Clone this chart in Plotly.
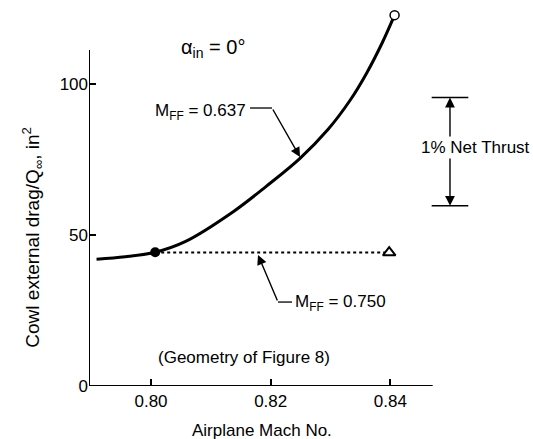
import plotly.graph_objects as go

# ---- data ----
mach_637 = [0.7909, 0.7957, 0.8007, 0.8057, 0.8138, 0.8193, 0.8249,
            0.8296, 0.8333, 0.8360, 0.8386, 0.8407]
drag_637 = [42.0, 42.8, 44.3, 47.8, 57.8, 66.2, 75.4,
            85.0, 94.7, 103.5, 113.5, 122.8]
mach_750 = [0.8007, 0.8398]
drag_750 = [44.2, 44.2]
x_ticks = [0.80, 0.82, 0.84]
x_ticktext = ["0.80", "0.82", "0.84"]
y_ticks = [0, 50, 100]
y_ticktext = ["0", "50", "100"]

X0, X1 = 0.78964, 0.86383
Y0, Y1 = 0.0, 125.83
AX_XEND = 0.84707
AX_YEND = 111.3

FONT = "Liberation Sans, Arial, Helvetica, sans-serif"
fs = 17

fig = go.Figure()

# M_FF = 0.637 curve
fig.add_trace(go.Scatter(x=mach_637, y=drag_637, mode="lines",
                         line=dict(color="black", width=3, shape="spline", smoothing=1.0),
                         hoverinfo="skip", showlegend=False))
# M_FF = 0.750 dotted line
fig.add_trace(go.Scatter(x=mach_750, y=drag_750, mode="lines",
                         line=dict(color="black", width=2, dash="dot"),
                         hoverinfo="skip", showlegend=False))
# markers
fig.add_trace(go.Scatter(x=[mach_637[2]], y=[drag_637[2]], mode="markers",
                         marker=dict(symbol="circle", size=10, color="black"),
                         showlegend=False, hoverinfo="skip"))
fig.add_trace(go.Scatter(x=[mach_637[-1]], y=[drag_637[-1]], mode="markers",
                         marker=dict(symbol="circle", size=9, color="white",
                                     line=dict(color="black", width=1.5)),
                         showlegend=False, hoverinfo="skip", cliponaxis=False))
fig.add_trace(go.Scatter(x=[mach_750[-1]], y=[drag_750[-1]], mode="markers",
                         marker=dict(symbol="triangle-up", size=11, color="white",
                                     line=dict(color="black", width=2)),
                         showlegend=False, hoverinfo="skip"))

line_k = dict(color="black", width=2)
shapes = [
    # axis lines
    dict(type="line", xref="x", yref="y", x0=X0, x1=X0, y0=0, y1=AX_YEND, line=line_k),
    dict(type="line", xref="x", yref="y", x0=X0, x1=AX_XEND, y0=0, y1=0, line=line_k),
    # leaders
    dict(type="line", xref="x", yref="y", x0=0.81654, x1=0.82022, y0=92.05, y1=92.05,
         line=dict(color="black", width=1.3)),
    dict(type="line", xref="x", yref="y", x0=0.82122, x1=0.82356, y0=27.8, y1=27.8,
         line=dict(color="black", width=1.3)),
    # bracket
    dict(type="line", xref="x", yref="y", x0=0.84690, x1=0.85302, y0=95.5, y1=95.5,
         line=dict(color="black", width=1.5)),
    dict(type="line", xref="x", yref="y", x0=0.84690, x1=0.85302, y0=59.7, y1=59.7,
         line=dict(color="black", width=1.5)),
]

arrow = dict(showarrow=True, arrowhead=2, arrowsize=1.4, arrowwidth=1.4,
             arrowcolor="black", axref="x", ayref="y", xref="x", yref="y", text="")
annotations = [
    dict(arrow, x=0.82490, y=75.8, ax=0.82022, ay=92.05),
    dict(arrow, x=0.81788, y=43.4, ax=0.82122, ay=27.8),
    dict(arrow, x=0.84996, y=95.5, ax=0.84996, ay=78.9),
    dict(arrow, x=0.84996, y=59.7, ax=0.84996, ay=78.9),
    dict(x=0.85414, y=78.9, xref="x", yref="y", text="1% Net Thrust", showarrow=False,
         bgcolor="white", font=dict(size=fs), borderpad=1),
    dict(x=0.81036, y=111.9, xref="x", yref="y", text="α<sub>in</sub> = 0°",
         showarrow=False, font=dict(size=20)),
    dict(x=0.81621, y=90.7, xref="x", yref="y", text="M<sub>FF</sub> = 0.637",
         showarrow=False, xanchor="right", font=dict(size=fs)),
    dict(x=0.82373, y=27.5, xref="x", yref="y", text="M<sub>FF</sub> = 0.750",
         showarrow=False, xanchor="left", font=dict(size=fs)),
    dict(x=0.81554, y=9.6, xref="x", yref="y", text="(Geometry of Figure 8)",
         showarrow=False, font=dict(size=fs)),
    dict(x=0.81863, y=-0.1158, xref="x", yref="paper", text="Airplane Mach No.",
         showarrow=False, font=dict(size=fs), yanchor="middle"),
    dict(x=-0.162, y=49.3, xref="paper", yref="y",
         text="Cowl external drag/Q<sub>∞</sub>, in<sup>2</sup>",
         showarrow=False, textangle=-90, font=dict(size=19)),
]

fig.update_layout(
    width=533, height=439,
    margin=dict(l=89, r=0, t=6, b=53),
    paper_bgcolor="white", plot_bgcolor="white",
    font=dict(family=FONT, size=fs, color="black"),
    showlegend=False,
    shapes=shapes, annotations=annotations,
    xaxis=dict(range=[X0, X1], tickvals=x_ticks, ticktext=x_ticktext,
               ticks="inside", ticklen=7, tickwidth=1.5, tickcolor="black",
               showline=False, showgrid=False, zeroline=False,
               ticklabelstandoff=3, tickfont=dict(size=fs)),
    yaxis=dict(range=[Y0, Y1], tickvals=y_ticks, ticktext=y_ticktext,
               ticks="inside", ticklen=7, tickwidth=1.5, tickcolor="black",
               showline=False, showgrid=False, zeroline=False,
               tickfont=dict(size=fs)),
)

fig.write_html("out.html")
